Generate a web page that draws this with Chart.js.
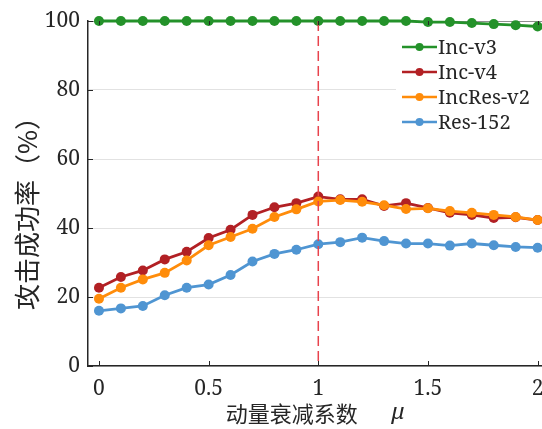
<!DOCTYPE html>
<html>
<head>
<meta charset="utf-8">
<script src="https://cdn.jsdelivr.net/npm/chart.js@4/dist/chart.umd.min.js"></script>
<style>
  html, body { margin: 0; padding: 0; background: #fff; }
  #wrap { width: 542px; height: 429px; position: relative; }
</style>
</head>
<body>
<div id="wrap"><canvas id="chart"></canvas></div>
<script>
// 动量衰减系数 μ
const mu = [0, 0.1, 0.2, 0.3, 0.4, 0.5, 0.6, 0.7, 0.8, 0.9, 1.0,
            1.1, 1.2, 1.3, 1.4, 1.5, 1.6, 1.7, 1.8, 1.9, 2.0];

// 攻击成功率 (%)
const incV3 = [100, 100, 100, 100, 100, 100, 100, 100, 100, 100, 100,
               100, 100, 100, 100, 99.7, 99.7, 99.4, 99.1, 98.8, 98.4];
const incV4 = [22.7, 25.8, 27.7, 30.9, 33.1, 37.1, 39.5, 43.8, 46.0, 47.2, 49.1,
               48.3, 48.3, 46.4, 47.2, 45.8, 44.4, 43.8, 42.9, 43.1, 42.3];
const incResV2 = [19.5, 22.7, 25.1, 27.0, 30.6, 35.0, 37.4, 39.8, 43.2, 45.4, 47.7,
                  48.1, 47.6, 46.6, 45.5, 45.7, 44.9, 44.4, 43.8, 43.2, 42.3];
const res152 = [16.0, 16.7, 17.4, 20.5, 22.7, 23.6, 26.4, 30.3, 32.5, 33.7, 35.3,
                35.9, 37.2, 36.2, 35.5, 35.5, 34.9, 35.5, 35.0, 34.5, 34.3];

const seriesNames = ['Inc-v3', 'Inc-v4', 'IncRes-v2', 'Res-152'];
const seriesColors = ['#24922a', '#b22024', '#ff8c0a', '#4f95d2'];

const xTicks = [0, 0.5, 1, 1.5, 2];
const yTicks = [0, 20, 40, 60, 80, 100];
const markerMu = 1;

const xTitle = '动量衰减系数';
const xSymbol = 'μ';
const yTitle = '攻击成功率（%）';

const serif = "'Noto Serif', 'Liberation Serif', serif";
const cjk = "'Noto Serif', 'Noto Sans CJK SC', sans-serif";
const cjkOnly = "'Noto Sans CJK SC', sans-serif";
const ink = '#262626';

function pts(ys) {
  return mu.map((x, i) => ({ x: x, y: ys[i] }));
}

const allSeries = [incV3, incV4, incResV2, res152];
const datasets = allSeries.map((ys, i) => ({
  label: seriesNames[i],
  data: pts(ys),
  borderColor: seriesColors[i],
  backgroundColor: seriesColors[i],
  borderWidth: 2.8,
  pointRadius: 5,
  pointBorderWidth: 0,
  pointHoverRadius: 5,
  clip: false,
  order: allSeries.length - i,
}));

// inward ticks on left, bottom and top edges
const innerTicks = {
  id: 'innerTicks',
  afterDraw(chart) {
    const { ctx, chartArea: a, scales: { x, y } } = chart;
    ctx.save();
    ctx.strokeStyle = ink;
    ctx.lineWidth = 1;
    ctx.beginPath();
    yTicks.forEach(v => {
      const py = Math.round(y.getPixelForValue(v)) + 0.5;
      ctx.moveTo(a.left, py);
      ctx.lineTo(a.left + 5, py);
    });
    xTicks.forEach(v => {
      const px = Math.round(x.getPixelForValue(v)) + 0.5;
      ctx.moveTo(px, a.bottom);
      ctx.lineTo(px, a.bottom - 5);
      ctx.moveTo(px, a.top);
      ctx.lineTo(px, a.top + 4);
    });
    ctx.stroke();
    ctx.restore();
  }
};

// dashed marker at μ = 1
const muLine = {
  id: 'muLine',
  afterDatasetsDraw(chart) {
    const { ctx, chartArea: a, scales: { x } } = chart;
    const px = x.getPixelForValue(markerMu);
    ctx.save();
    ctx.strokeStyle = '#e8434d';
    ctx.lineWidth = 1.5;
    ctx.setLineDash([10, 5]);
    ctx.beginPath();
    ctx.moveTo(px, a.top);
    ctx.lineTo(px, a.bottom);
    ctx.stroke();
    ctx.restore();
  }
};

// axis titles; the μ is set in italic, apart from the Chinese words
const axisTitles = {
  id: 'axisTitles',
  afterDraw(chart) {
    const { ctx, chartArea: a } = chart;
    ctx.save();
    ctx.fillStyle = ink;
    ctx.textBaseline = 'middle';
    ctx.textAlign = 'left';

    ctx.font = '22px ' + cjk;
    const w1 = ctx.measureText(xTitle).width;
    ctx.font = 'italic 22px ' + serif;
    const w2 = ctx.measureText(xSymbol).width;
    const gap = 34;
    const cx = (a.left + a.right) / 2;
    const sx = cx - (w1 + gap + w2) / 2;
    ctx.font = '22px ' + cjk;
    ctx.fillText(xTitle, sx, 416);
    ctx.font = 'italic 22px ' + serif;
    ctx.fillText(xSymbol, sx + w1 + gap, 413);

    ctx.translate(27, 207);
    ctx.rotate(-Math.PI / 2);
    ctx.textAlign = 'center';
    ctx.font = '26px ' + cjkOnly;
    ctx.fillText(yTitle, 0, 0);
    ctx.restore();
  }
};

// legend box in the upper right of the plot
const boxLegend = {
  id: 'boxLegend',
  afterDraw(chart) {
    const { ctx } = chart;
    const x0 = 402, y0 = 47, row = 25, len = 35;
    ctx.save();
    ctx.fillStyle = '#fff';
    ctx.fillRect(396, 33, 146, 102);
    chart.data.datasets.forEach((ds, i) => {
      const yy = y0 + i * row;
      ctx.strokeStyle = ds.borderColor;
      ctx.lineWidth = 2.5;
      ctx.beginPath();
      ctx.moveTo(x0, yy);
      ctx.lineTo(x0 + len, yy);
      ctx.stroke();
      ctx.fillStyle = ds.borderColor;
      ctx.beginPath();
      ctx.arc(x0 + len / 2, yy, 4, 0, Math.PI * 2);
      ctx.fill();
      ctx.fillStyle = ink;
      ctx.font = '20px ' + serif;
      ctx.textBaseline = 'middle';
      ctx.textAlign = 'left';
      ctx.fillText(ds.label, x0 + len + 1, yy + 1);
    });
    ctx.restore();
  }
};

function noPad(s) {
  s.paddingLeft = 0;
  s.paddingRight = 0;
  s.paddingTop = 0;
  s.paddingBottom = 0;
}

new Chart(document.getElementById('chart'), {
  type: 'line',
  data: { datasets: datasets },
  options: {
    responsive: true,
    maintainAspectRatio: false,
    animation: false,
    layout: { autoPadding: false, padding: { top: 21, right: 0, left: 0, bottom: 0 } },
    plugins: {
      legend: { display: false },
      tooltip: { enabled: false },
    },
    scales: {
      x: {
        type: 'linear',
        min: -0.05,
        max: 2.02,
        afterBuildTicks: s => { s.ticks = xTicks.map(v => ({ value: v })); },
        afterFit: s => { s.height = 63; noPad(s); },
        grid: { display: false, drawTicks: false },
        border: { display: true, color: ink, width: 1.5 },
        ticks: {
          padding: 10,
          color: ink,
          font: { family: serif, size: 21 },
          maxRotation: 0,
          autoSkip: false,
          callback: v => String(v),
        },
      },
      y: {
        min: 0,
        max: 100,
        afterBuildTicks: s => { s.ticks = yTicks.map(v => ({ value: v })); },
        afterFit: s => { s.width = 88; noPad(s); },
        grid: {
          drawTicks: false,
          color: c => (c.tick && c.tick.value === 100 ? '#8f8f8f' : '#e2e2e2'),
          lineWidth: 1,
        },
        border: { display: true, color: ink, width: 1.5 },
        ticks: {
          padding: 8,
          color: ink,
          font: { family: serif, size: 21 },
        },
      },
    },
  },
  plugins: [muLine, innerTicks, axisTitles, boxLegend],
});
</script>
</body>
</html>
